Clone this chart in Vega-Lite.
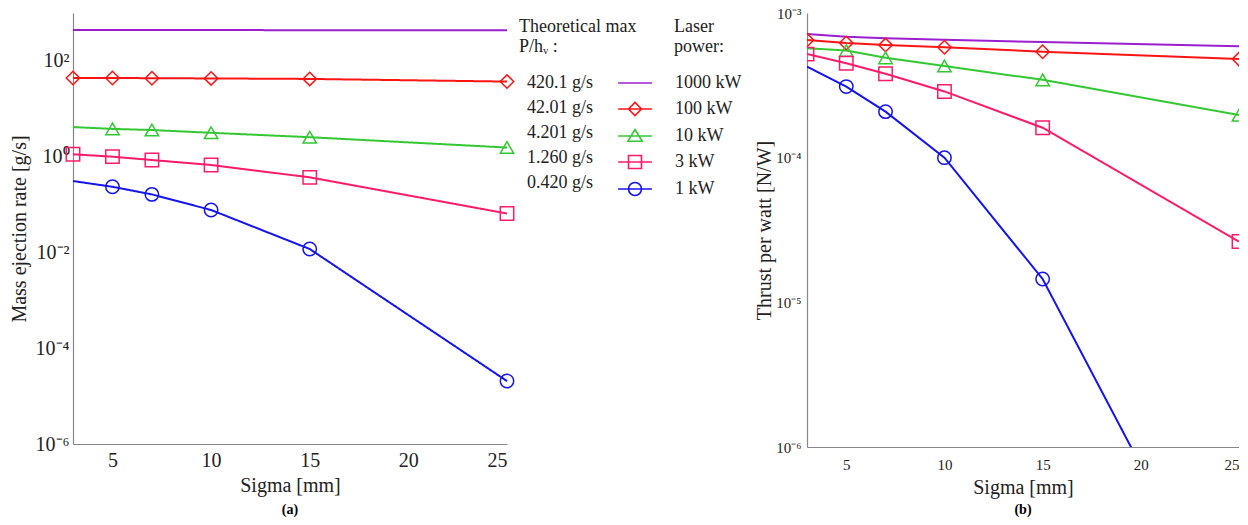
{
  "$schema": "https://vega.github.io/schema/vega-lite/v6.json",
  "padding": {"left": 9, "top": 6, "right": 0, "bottom": 5},
  "background": "white",
  "datasets": {
    "mass": [
      {"sigma": 3, "val": 440, "power": "1000 kW", "rate": "420.1 g/s", "m": 0},
      {"sigma": 5, "val": 440, "power": "1000 kW", "rate": "420.1 g/s", "m": 0},
      {"sigma": 7, "val": 440, "power": "1000 kW", "rate": "420.1 g/s", "m": 0},
      {"sigma": 10, "val": 440, "power": "1000 kW", "rate": "420.1 g/s", "m": 0},
      {"sigma": 15, "val": 438, "power": "1000 kW", "rate": "420.1 g/s", "m": 0},
      {"sigma": 25, "val": 436, "power": "1000 kW", "rate": "420.1 g/s", "m": 0},
      {"sigma": 3, "val": 44, "power": "100 kW", "rate": "42.01 g/s", "m": 1},
      {"sigma": 5, "val": 44, "power": "100 kW", "rate": "42.01 g/s", "m": 1},
      {"sigma": 7, "val": 43.5, "power": "100 kW", "rate": "42.01 g/s", "m": 1},
      {"sigma": 10, "val": 43, "power": "100 kW", "rate": "42.01 g/s", "m": 1},
      {"sigma": 15, "val": 42, "power": "100 kW", "rate": "42.01 g/s", "m": 1},
      {"sigma": 25, "val": 37, "power": "100 kW", "rate": "42.01 g/s", "m": 1},
      {"sigma": 3, "val": 4.15, "power": "10 kW", "rate": "4.201 g/s", "m": 0},
      {"sigma": 5, "val": 3.8, "power": "10 kW", "rate": "4.201 g/s", "m": 1},
      {"sigma": 7, "val": 3.6, "power": "10 kW", "rate": "4.201 g/s", "m": 1},
      {"sigma": 10, "val": 3.15, "power": "10 kW", "rate": "4.201 g/s", "m": 1},
      {"sigma": 15, "val": 2.55, "power": "10 kW", "rate": "4.201 g/s", "m": 1},
      {"sigma": 25, "val": 1.55, "power": "10 kW", "rate": "4.201 g/s", "m": 1},
      {"sigma": 3, "val": 1.12, "power": "3 kW", "rate": "1.260 g/s", "m": 1},
      {"sigma": 5, "val": 1.0, "power": "3 kW", "rate": "1.260 g/s", "m": 1},
      {"sigma": 7, "val": 0.85, "power": "3 kW", "rate": "1.260 g/s", "m": 1},
      {"sigma": 10, "val": 0.67, "power": "3 kW", "rate": "1.260 g/s", "m": 1},
      {"sigma": 15, "val": 0.37, "power": "3 kW", "rate": "1.260 g/s", "m": 1},
      {"sigma": 25, "val": 0.065, "power": "3 kW", "rate": "1.260 g/s", "m": 1},
      {"sigma": 3, "val": 0.31, "power": "1 kW", "rate": "0.420 g/s", "m": 0},
      {"sigma": 5, "val": 0.235, "power": "1 kW", "rate": "0.420 g/s", "m": 1},
      {"sigma": 7, "val": 0.163, "power": "1 kW", "rate": "0.420 g/s", "m": 1},
      {"sigma": 10, "val": 0.077, "power": "1 kW", "rate": "0.420 g/s", "m": 1},
      {"sigma": 15, "val": 0.0118, "power": "1 kW", "rate": "0.420 g/s", "m": 1},
      {"sigma": 25, "val": 0.0000206, "power": "1 kW", "rate": "0.420 g/s", "m": 1}
    ],
    "thrust": [
      {"sigma": 3, "val": 0.000715, "power": "1000 kW", "m": 0},
      {"sigma": 5, "val": 0.000685, "power": "1000 kW", "m": 0},
      {"sigma": 7, "val": 0.00067, "power": "1000 kW", "m": 0},
      {"sigma": 10, "val": 0.000653, "power": "1000 kW", "m": 0},
      {"sigma": 15, "val": 0.00063, "power": "1000 kW", "m": 0},
      {"sigma": 25, "val": 0.00059, "power": "1000 kW", "m": 0},
      {"sigma": 3, "val": 0.00065, "power": "100 kW", "m": 1},
      {"sigma": 5, "val": 0.00062, "power": "100 kW", "m": 1},
      {"sigma": 7, "val": 0.0006, "power": "100 kW", "m": 1},
      {"sigma": 10, "val": 0.00058, "power": "100 kW", "m": 1},
      {"sigma": 15, "val": 0.00054, "power": "100 kW", "m": 1},
      {"sigma": 25, "val": 0.00048, "power": "100 kW", "m": 1},
      {"sigma": 3, "val": 0.00057, "power": "10 kW", "m": 0},
      {"sigma": 5, "val": 0.00055, "power": "10 kW", "m": 1},
      {"sigma": 7, "val": 0.00049, "power": "10 kW", "m": 1},
      {"sigma": 10, "val": 0.00043, "power": "10 kW", "m": 1},
      {"sigma": 15, "val": 0.000345, "power": "10 kW", "m": 1},
      {"sigma": 25, "val": 0.000197, "power": "10 kW", "m": 1},
      {"sigma": 3, "val": 0.00052, "power": "3 kW", "m": 1},
      {"sigma": 5, "val": 0.00045, "power": "3 kW", "m": 1},
      {"sigma": 7, "val": 0.00038, "power": "3 kW", "m": 1},
      {"sigma": 10, "val": 0.000287, "power": "3 kW", "m": 1},
      {"sigma": 15, "val": 0.000161, "power": "3 kW", "m": 1},
      {"sigma": 25, "val": 0.0000263, "power": "3 kW", "m": 1},
      {"sigma": 3, "val": 0.000426, "power": "1 kW", "m": 0},
      {"sigma": 5, "val": 0.00031, "power": "1 kW", "m": 1},
      {"sigma": 7, "val": 0.000208, "power": "1 kW", "m": 1},
      {"sigma": 10, "val": 0.0001, "power": "1 kW", "m": 1},
      {"sigma": 15, "val": 0.0000145, "power": "1 kW", "m": 1},
      {"sigma": 25, "val": 0.000000038, "power": "1 kW", "m": 1}
    ]
  },
  "resolve": {
    "scale": {"color": "independent", "shape": "independent", "strokeDash": "independent"},
    "legend": {"color": "independent", "shape": "independent", "strokeDash": "independent"}
  },
  "spacing": 12,
  "hconcat": [
    {
      "width": 434,
      "height": 431,
      "data": {"name": "mass"},
      "title": {"text": "(a)", "orient": "bottom", "anchor": "middle", "fontSize": 14, "fontWeight": "bold", "font": "Liberation Serif", "offset": 8},
      "encoding": {
        "x": {
          "field": "sigma", "type": "quantitative",
          "scale": {"domain": [3, 25], "nice": false, "zero": false},
          "axis": {"values": [5, 10, 15, 20, 25], "title": "Sigma [mm]", "labelFontSize": 20, "titleFontSize": 20, "labelPadding": 6, "titlePadding": 5}
        },
        "y": {
          "field": "val", "type": "quantitative",
          "scale": {"type": "log", "domain": [0.000001, 1000], "nice": false},
          "axis": {
            "values": [0.000001, 0.0001, 0.01, 1, 100],
            "labelExpr": "'10' + (datum.value < 0.00001 ? '⁻⁶' : datum.value < 0.001 ? '⁻⁴' : datum.value < 0.1 ? '⁻²' : datum.value < 10 ? '⁰' : '²')",
            "title": "Mass ejection rate [g/s]", "labelFontSize": 20, "titleFontSize": 20, "labelPadding": 4, "titlePadding": 6
          }
        },
        "color": {
          "field": "power", "type": "nominal",
          "scale": {"domain": ["1000 kW", "100 kW", "10 kW", "3 kW", "1 kW"], "range": ["#9b1fcf", "#ff1414", "#33c833", "#ff1a6a", "#1414f0"]},
          "legend": {
            "title": ["Laser", "power:"],
            "orient": "none", "legendX": 553, "legendY": 5,
            "padding": 0,
            "symbolSize": 169, "symbolStrokeWidth": 1.6,
            "labelFontSize": 18, "titleFontSize": 18, "titleFontWeight": "normal",
            "labelFont": "Liberation Serif", "titleFont": "Liberation Serif",
            "labelColor": "#222", "titleColor": "#222",
            "titlePadding": 18, "rowPadding": 7, "labelOffset": 31,
            "encode": {
              "symbols": {"update": {
                "shape": {"signal": "datum.value === '1000 kW' ? 'M-2.6,0H2.6' : datum.value === '100 kW' ? 'M-2.6,0H2.6M-1,0L0,-1L1,0L0,1Z' : datum.value === '10 kW' ? 'M-2.6,0H2.6M0,-1L1.1,0.8L-1.1,0.8Z' : datum.value === '3 kW' ? 'M-2.6,0H2.6M-1,-1H1V1H-1Z' : 'M-2.6,0H2.6M1,0A1,1,0,1,1,-1,0A1,1,0,1,1,1,0'"},
                "fill": {"value": "transparent"}
              }},
              "title": {"update": {"dx": {"value": 48}}}
            }
          }
        }
      },
      "layer": [
        {
          "mark": {"type": "line", "strokeWidth": 2},
          "encoding": {
            "strokeDash": {
              "field": "rate", "type": "nominal",
              "scale": {"domain": ["420.1 g/s", "42.01 g/s", "4.201 g/s", "1.260 g/s", "0.420 g/s"], "range": [[1, 0], [1, 0], [1, 0], [1, 0], [1, 0]]},
              "legend": {
                "title": ["Theoretical max", "P/hᵥ :"],
                "orient": "none", "legendX": 446, "legendY": 5,
                "padding": 0,
                "symbolOpacity": 0, "symbolSize": 4,
                "labelFontSize": 18, "titleFontSize": 18, "titleFontWeight": "normal",
                "labelFont": "Liberation Serif", "titleFont": "Liberation Serif",
                "labelColor": "#222", "titleColor": "#222",
                "titlePadding": 18, "rowPadding": 7, "labelOffset": -10
              }
            }
          }
        },
        {
          "transform": [{"filter": "datum.m == 1"}],
          "mark": {"type": "point", "filled": false, "size": 180, "strokeWidth": 1.5, "opacity": 1},
          "encoding": {
            "shape": {
              "field": "rate", "type": "nominal",
              "scale": {"domain": ["420.1 g/s", "42.01 g/s", "4.201 g/s", "1.260 g/s", "0.420 g/s"], "range": ["circle", "diamond", "triangle-up", "square", "circle"]},
              "legend": null
            }
          }
        }
      ]
    },
    {
      "width": 432,
      "height": 434,
      "data": {"name": "thrust"},
      "title": {"text": "(b)", "orient": "bottom", "anchor": "middle", "fontSize": 14, "fontWeight": "bold", "font": "Liberation Serif", "offset": 6},
      "encoding": {
        "x": {
          "field": "sigma", "type": "quantitative",
          "scale": {"domain": [3, 25], "nice": false, "zero": false},
          "axis": {"values": [5, 10, 15, 20, 25], "title": "Sigma [mm]", "labelFontSize": 15, "titleFontSize": 20, "labelPadding": 10, "titlePadding": 5}
        },
        "y": {
          "field": "val", "type": "quantitative",
          "scale": {"type": "log", "domain": [0.000001, 0.001], "nice": false},
          "axis": {
            "values": [0.000001, 0.00001, 0.0001, 0.001],
            "labelExpr": "'10' + (datum.value < 0.000005 ? '⁻⁶' : datum.value < 0.00005 ? '⁻⁵' : datum.value < 0.0005 ? '⁻⁴' : '⁻³')",
            "title": "Thrust per watt [N/W]", "labelFontSize": 15, "titleFontSize": 20, "labelPadding": 6, "titlePadding": 1
          }
        },
        "color": {
          "field": "power", "type": "nominal",
          "scale": {"domain": ["1000 kW", "100 kW", "10 kW", "3 kW", "1 kW"], "range": ["#9b1fcf", "#ff1414", "#33c833", "#ff1a6a", "#1414f0"]},
          "legend": null
        }
      },
      "layer": [
        {
          "mark": {"type": "line", "strokeWidth": 2, "clip": true}
        },
        {
          "transform": [{"filter": "datum.m == 1"}],
          "mark": {"type": "point", "filled": false, "size": 180, "strokeWidth": 1.5, "opacity": 1, "clip": true},
          "encoding": {
            "shape": {
              "field": "power", "type": "nominal",
              "scale": {"domain": ["1000 kW", "100 kW", "10 kW", "3 kW", "1 kW"], "range": ["circle", "diamond", "triangle-up", "square", "circle"]},
              "legend": null
            }
          }
        }
      ]
    }
  ],
  "config": {
    "font": "Liberation Serif",
    "view": {"stroke": null},
    "axis": {
      "domainColor": "#888",
      "domainWidth": 1.2,
      "ticks": false,
      "grid": false,
      "labelFont": "Liberation Serif",
      "titleFont": "Liberation Serif",
      "labelColor": "#222",
      "titleColor": "#222",
      "titleFontWeight": "normal"
    }
  }
}
